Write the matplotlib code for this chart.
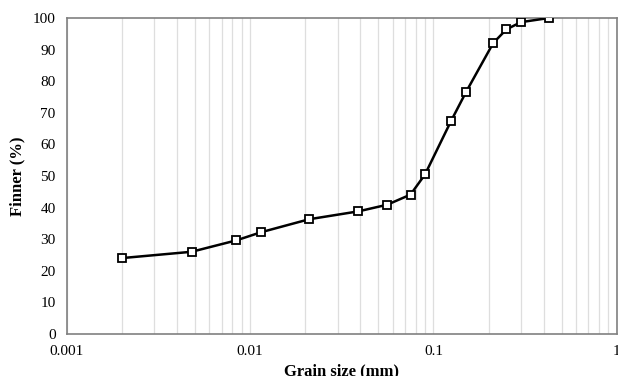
import matplotlib
matplotlib.use('Agg')
import matplotlib.pyplot as plt
from matplotlib.ticker import LogLocator, FixedLocator, NullFormatter, FuncFormatter

# grain size distribution
grain_size = [0.002, 0.0048, 0.0084, 0.0115, 0.021, 0.039, 0.056, 0.075,
              0.09, 0.125, 0.151, 0.212, 0.25, 0.30, 0.425]
finer = [24.0, 26.0, 29.6, 32.2, 36.3, 38.8, 40.9, 44.1,
         50.5, 67.5, 76.7, 92.1, 96.4, 98.7, 100.0]

plt.rcParams['font.family'] = ['Liberation Serif', 'DejaVu Serif']

fig = plt.figure(figsize=(6.18, 3.76), dpi=100)
ax = fig.add_axes([0.108, 0.112, 0.89, 0.84])

ax.plot(grain_size, finer, color='black', lw=1.8, marker='s', ms=5.5,
        mfc='white', mec='black', mew=1.3, zorder=3)

ax.set_xscale('log')
ax.set_xlim(0.001, 1)
ax.set_ylim(0, 100)
ax.set_yticks(range(0, 101, 10))
ax.xaxis.set_major_locator(FixedLocator([0.001, 0.01, 0.1, 1]))
ax.xaxis.set_major_formatter(FuncFormatter(lambda v, p: f'{v:g}'))
ax.xaxis.set_minor_locator(LogLocator(base=10, subs=range(2, 10)))
ax.xaxis.set_minor_formatter(NullFormatter())

ax.grid(True, which='both', axis='x', color='#dedede', lw=0.9)
ax.set_axisbelow(True)
ax.tick_params(which='both', length=0, labelsize=11)
ax.tick_params(axis='x', pad=8)
ax.tick_params(axis='y', pad=8)

for s in ax.spines.values():
    s.set_color('#808080')
    s.set_linewidth(1.2)

ax.set_xlabel('Grain size (mm)', fontsize=12, fontweight='bold', labelpad=4)
ax.set_ylabel('Finner (%)', fontsize=12, fontweight='bold', labelpad=5)

plt.savefig('out.png', dpi=100)
plt.close()
